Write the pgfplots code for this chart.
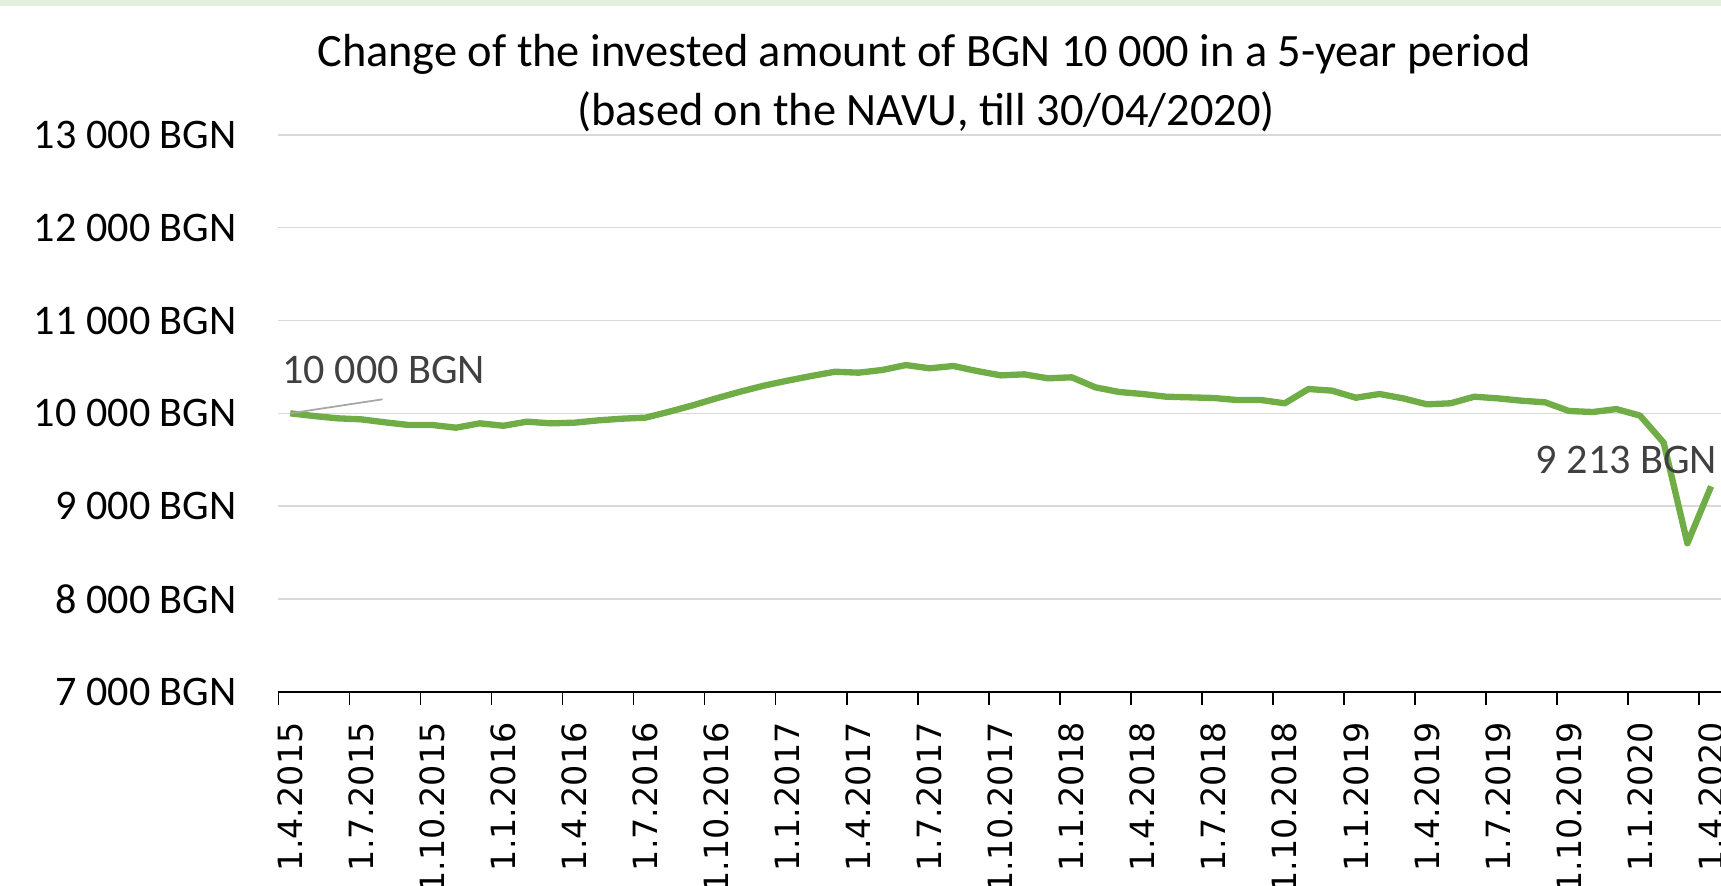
\documentclass[border=0pt]{standalone}
\usepackage{fontspec}
\setmainfont{Carlito}
\newfontfamily\dejavu{DejaVu Sans}
\usepackage{pgfplots}
\pgfplotsset{compat=1.18}
\usepackage{pgfplotstable}
\definecolor{linegreen}{RGB}{112,173,71}
\definecolor{bandgreen}{RGB}{226,239,218}
\definecolor{gridgray}{RGB}{217,217,217}
\definecolor{labelgray}{RGB}{64,64,64}
\definecolor{leadergray}{RGB}{166,166,166}
\pgfplotstableread{
x y
0.5 10000
1.5 9971
2.5 9946
3.5 9935
4.5 9903
5.5 9874
6.5 9874
7.5 9845
8.5 9892
9.5 9866
10.5 9910
11.5 9892
12.5 9899
13.5 9924
14.5 9942
15.5 9953
16.5 10017
17.5 10086
18.5 10162
19.5 10233
20.5 10298
21.5 10352
22.5 10402
23.5 10448
24.5 10438
25.5 10467
26.5 10520
27.5 10485
28.5 10510
29.5 10456
30.5 10409
31.5 10420
32.5 10377
33.5 10388
34.5 10280
35.5 10230
36.5 10208
37.5 10179
38.5 10172
39.5 10165
40.5 10143
41.5 10143
42.5 10108
43.5 10262
44.5 10244
45.5 10168
46.5 10208
47.5 10161
48.5 10097
49.5 10108
50.5 10179
51.5 10161
52.5 10136
53.5 10118
54.5 10025
55.5 10014
56.5 10046
57.5 9975
58.5 9683
59.5 8599
60.5 9213
}\navu
\begin{document}
\begin{tikzpicture}
\useasboundingbox (0,0) rectangle (172.1mm,88.5mm);
\fill[bandgreen] (0,87.9mm) rectangle (172.1mm,88.5mm);
\begin{axis}[
  at={(27.84mm,19.33mm)}, anchor=south west,
  scale only axis, width=144.45mm, height=55.68mm,
  xmin=0, xmax=61, ymin=7000, ymax=13000,
  axis x line*=bottom, axis y line*=left,
  y axis line style={draw=none},
  x axis line style={black, line width=0.5pt},
  scaled y ticks=false,
  ytick={7000,8000,...,13000},
  yticklabels={7 000 BGN,8 000 BGN,9 000 BGN,10 000 BGN,11 000 BGN,12 000 BGN,13 000 BGN},
  ytick style={draw=none},
  yticklabel style={anchor=east, inner sep=0pt, font=\fontsize{12}{14}\selectfont, black},
  ymajorgrids, grid style={gridgray, line width=0.37pt},
  tick align=outside,
  major tick length=0pt,
  xtick={0.5,3.5,...,60.5},
  xticklabels={1.4.2015,1.7.2015,1.10.2015,1.1.2016,1.4.2016,1.7.2016,1.10.2016,1.1.2017,1.4.2017,1.7.2017,1.10.2017,1.1.2018,1.4.2018,1.7.2018,1.10.2018,1.1.2019,1.4.2019,1.7.2019,1.10.2019,1.1.2020,1.4.2020},
  xtick style={black, line width=0.45pt},
  xticklabel style={rotate=90, anchor=east, inner sep=0pt, font=\dejavu\fontsize{9.5}{11}\selectfont, black},
  xticklabel shift=3.0mm,
  yticklabel shift=4.1mm,
  extra x ticks={0,3,...,60},
  extra x tick labels={},
  extra x tick style={major tick length=1.3mm, grid=none},
  clip=false,
]
\addplot[linegreen, line width=1.8pt, line join=round, mark=none] table[x=x,y=y] {\navu};
\draw[leadergray, line width=0.5pt] (axis cs:0.5,10000) -- (axis cs:4.4,10151);
\node[anchor=base west, inner sep=0pt, text=labelgray, font=\fontsize{12}{14}\selectfont] at (axis cs:0.14,10316) {10 000 BGN};
\node[anchor=base west, inner sep=0pt, text=labelgray, font=\fontsize{12}{14}\selectfont] at (axis cs:53.07,9353) {9 213 BGN};
\end{axis}
\node[anchor=base, inner sep=0pt, font=\fontsize{13.2}{15}\selectfont] at (92.4mm,81.9mm) {Change of the invested amount of BGN 10 000 in a 5-year period};
\node[anchor=base, inner sep=0pt, font=\fontsize{13.2}{15}\selectfont] at (92.6mm,76.0mm) {(based on the NAVU, till 30/04/2020)};
\end{tikzpicture}
\end{document}
